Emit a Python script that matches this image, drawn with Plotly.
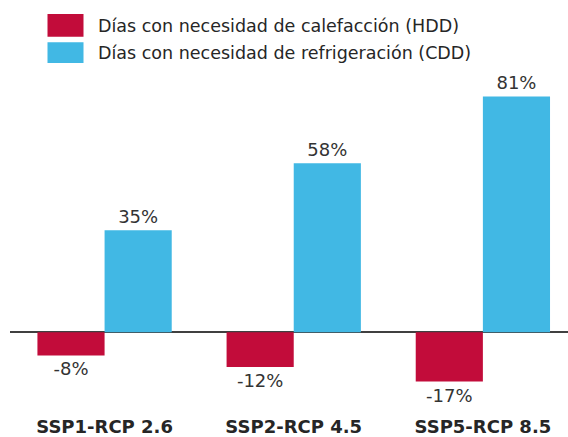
import plotly.graph_objects as go

escenarios = ["SSP1-RCP 2.6", "SSP2-RCP 4.5", "SSP5-RCP 8.5"]
series = ["Días con necesidad de calefacción (HDD)",
          "Días con necesidad de refrigeración (CDD)"]
hdd = [-8, -12, -17]
cdd = [35, 58, 81]
colores = ["#C20C3A", "#41B8E4"]

W, H = 568, 437
L, R, T, B = 10, 0, 10, 37


def px_x(x):
    return (x - L) / (W - L - R)


def px_y(y):
    return (H - B - y) / (H - T - B)


fig = go.Figure()
for nombre, vals, col in zip(series, [hdd, cdd], colores):
    fig.add_trace(go.Bar(
        x=escenarios, y=vals, name=nombre,
        marker=dict(color=col, line=dict(width=0)),
        text=[f"{v}%" for v in vals], textposition="outside",
        textfont=dict(family="DejaVu Sans", size=18, color="#333333"),
        cliponaxis=False, hoverinfo="skip",
    ))

# leyenda dibujada a mano (cuadros grandes como en el original)
cajas = [(14, 37), (42.5, 63.5)]
centros = [26, 53]
for nombre, col, (y0, y1), yc in zip(series, colores, cajas, centros):
    fig.add_shape(type="rect", xref="paper", yref="paper",
                  x0=px_x(47.5), x1=px_x(83.5), y0=px_y(y1), y1=px_y(y0),
                  fillcolor=col, line=dict(width=0))
    fig.add_annotation(text=nombre, xref="paper", yref="paper",
                       x=px_x(96), y=px_y(yc), xanchor="left", yanchor="middle",
                       showarrow=False,
                       font=dict(family="DejaVu Sans", size=17.5, color="#262626"))

fig.update_layout(
    width=W, height=H,
    margin=dict(l=L, r=R, t=T, b=B),
    barmode="group", bargap=0.29, bargroupgap=0,
    plot_bgcolor="white", paper_bgcolor="white",
    showlegend=False,
    xaxis=dict(range=[-0.5, 2.45], showgrid=False, showline=False, ticks="",
               tickfont=dict(family="DejaVu Sans", size=18, color="#262626",
                             weight="bold"),
               ticklabelstandoff=18),
    yaxis=dict(range=[-21.94, 110.7], showgrid=False, showticklabels=False,
               zeroline=True, zerolinecolor="#404040", zerolinewidth=1.5),
)

# sin margen en el body para que la figura ocupe toda la ventana
fig.write_html("out.html", config={"displayModeBar": False},
               post_script="document.body.style.margin='0';")
